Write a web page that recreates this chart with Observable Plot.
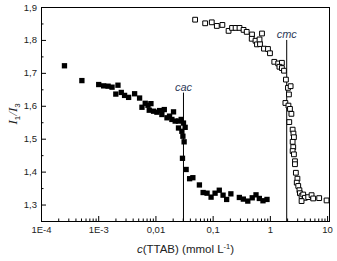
<!DOCTYPE html>
<html><head><meta charset="utf-8">
<script src="https://cdn.jsdelivr.net/npm/d3@7"></script>
<script src="https://cdn.jsdelivr.net/npm/@observablehq/plot@0.6"></script>
<style>body{margin:0;background:#fff}</style>
</head><body><div id="chart"></div>
<script>
// Filled squares (left curve, "cac")
const filledConc = [2.52e-4,5.08e-4,1.00e-3,1.22e-3,1.46e-3,1.71e-3,1.99e-3,2.17e-3,2.48e-3,2.83e-3,3.33e-3,4.24e-3,5.18e-3,5.70e-3,6.50e-3,7.26e-3,8.18e-3,7.64e-3,9.08e-3,0.0104,0.0116,0.0140,0.0127,0.0156,0.0173,0.0203,0.0190,0.0217,0.0248,0.0276,0.0303,0.0248,0.0324,0.0284,0.0296,0.0311,0.0291,0.0337,0.0388,0.0442,0.0575,0.0668,0.0783,0.0920,0.108,0.128,0.149,0.172,0.204,0.287,0.337,0.403,0.482,0.561,0.641,0.743,0.873];
const filledRatio = [1.723,1.678,1.666,1.662,1.661,1.658,1.637,1.664,1.642,1.633,1.627,1.638,1.625,1.597,1.609,1.603,1.608,1.588,1.585,1.582,1.587,1.590,1.575,1.565,1.570,1.583,1.560,1.555,1.555,1.560,1.549,1.534,1.536,1.524,1.509,1.492,1.442,1.408,1.380,1.383,1.361,1.338,1.336,1.324,1.336,1.345,1.330,1.317,1.334,1.323,1.318,1.312,1.322,1.331,1.320,1.313,1.317];
// Open squares (right curve, "cmc")
const openConc = [0.0484,0.0725,0.0946,0.116,0.145,0.186,0.214,0.247,0.289,0.340,0.386,0.478,0.472,0.550,0.583,0.659,0.646,0.714,0.773,0.908,0.984,1.17,1.37,1.59,1.44,1.59,1.73,1.87,2.03,2.26,2.11,1.83,2.07,2.20,2.33,2.14,2.45,2.53,2.58,2.45,2.51,2.45,2.58,2.69,2.69,2.79,2.97,2.89,3.07,3.22,3.28,3.51,3.75,4.01,3.51,4.58,5.25,5.60,7.13,9.60];
const openRatio = [1.863,1.852,1.855,1.844,1.847,1.829,1.838,1.838,1.838,1.832,1.826,1.818,1.805,1.799,1.788,1.789,1.803,1.821,1.775,1.774,1.761,1.735,1.730,1.732,1.720,1.716,1.708,1.681,1.656,1.661,1.636,1.610,1.602,1.592,1.577,1.552,1.529,1.517,1.506,1.492,1.476,1.464,1.454,1.433,1.424,1.398,1.380,1.368,1.358,1.345,1.336,1.327,1.332,1.322,1.312,1.324,1.330,1.320,1.321,1.314];
// Critical concentration markers
const markerNames = ["cac", "cmc"];
const markerConc = [0.0303, 1.93];
const markerTop = [1.64, 1.80];
// Axes
const xDomain = [1e-4, 10.8];
const yDomain = [1.25, 1.9];
const xMajorTicks = [1e-4, 1e-3, 1e-2, 1e-1, 1, 10];
const xTickLabels = ["1E-4", "1E-3", "0,01", "0,1", "1", "10"];
const yMajorTicks = [1.3, 1.4, 1.5, 1.6, 1.7, 1.8, 1.9];
const yTickLabels = ["1,3", "1,4", "1,5", "1,6", "1,7", "1,8", "1,9"];
const yMinorTicks = [1.35, 1.45, 1.55, 1.65, 1.75, 1.85];

const xMinorTicks = [];
for (const d of [1e-4, 1e-3, 1e-2, 1e-1, 1]) for (let k = 2; k <= 9; k++) xMinorTicks.push(d * k);

const filled = filledConc.map((c, i) => ({c, r: filledRatio[i]}));
const open = openConc.map((c, i) => ({c, r: openRatio[i]}));
const markers = markerNames.map((n, i) => ({n, c: markerConc[i], top: markerTop[i]}));

const svg = Plot.plot({
  width: 337, height: 261,
  marginLeft: 41, marginRight: 8, marginTop: 7, marginBottom: 40,
  x: {type: "log", domain: xDomain},
  y: {domain: yDomain},
  style: {fontFamily: "'Liberation Sans', Arial, sans-serif", fontSize: "9.5px", color: "#222", background: "#fff"},
  marks: [
    Plot.axisX(xMinorTicks, {tickSize: -2.5, fill: "none", stroke: "black", label: null}),
    Plot.axisX(xMajorTicks, {tickSize: -5, fill: "none", stroke: "black", label: null}),
    Plot.axisX(xMajorTicks, {tickSize: 0, tickPadding: 5, tickFormat: d => xTickLabels[xMajorTicks.indexOf(d)], label: null}),
    Plot.axisY(yMinorTicks, {tickSize: -2.5, fill: "none", stroke: "black", label: null}),
    Plot.axisY(yMajorTicks, {tickSize: -5, fill: "none", stroke: "black", label: null}),
    Plot.axisY(yMajorTicks, {tickSize: 0, tickPadding: 4.5, tickFormat: d => yTickLabels[yMajorTicks.indexOf(d)], label: null}),
    Plot.frame({stroke: "black"}),
    Plot.ruleX(markers, {x: "c", y1: yDomain[0], y2: "top", stroke: "black", strokeWidth: 1}),
    Plot.dot(filled, {x: "c", y: "r", symbol: "square", r: 3, fill: "black", stroke: "none"}),
    Plot.dot(open, {x: "c", y: "r", symbol: "square", r: 2.7, fill: "white", stroke: "black", strokeWidth: 1}),
    Plot.text(markers, {x: "c", y: "top", text: "n", dy: -6, fontStyle: "italic", fontSize: 11, fill: "#2f3b5a"}),
    Plot.text(["x"], {frameAnchor: "bottom", dy: 31, text: d => d, className: "xtitle", fontSize: 11.5, fill: "#222"}),
    Plot.text(["y"], {frameAnchor: "left", dx: -28.5, dy: 10, rotate: -90, text: d => d, className: "ytitle", fontSize: 13, fill: "#222"})
  ]
});

const xt = d3.select(svg).select(".xtitle text");
xt.text(null);
xt.append("tspan").attr("font-style", "italic").text("c");
xt.append("tspan").text("(TTAB) (mmol L");
xt.append("tspan").attr("dy", -4).attr("font-size", "7.5px").text("-1");
xt.append("tspan").attr("dy", 4).text(")");

const yt = d3.select(svg).select(".ytitle text");
yt.text(null);
yt.append("tspan").attr("font-style", "italic").attr("font-family", "'Liberation Serif', serif").text("I");
yt.append("tspan").attr("dy", 3).attr("font-size", "8px").text("1");
yt.append("tspan").attr("dy", -3).attr("font-style", "italic").attr("font-family", "'Liberation Serif', serif").text("/I");
yt.append("tspan").attr("dy", 3).attr("font-size", "8px").text("3");

document.getElementById("chart").appendChild(svg);
</script>
</body></html>
